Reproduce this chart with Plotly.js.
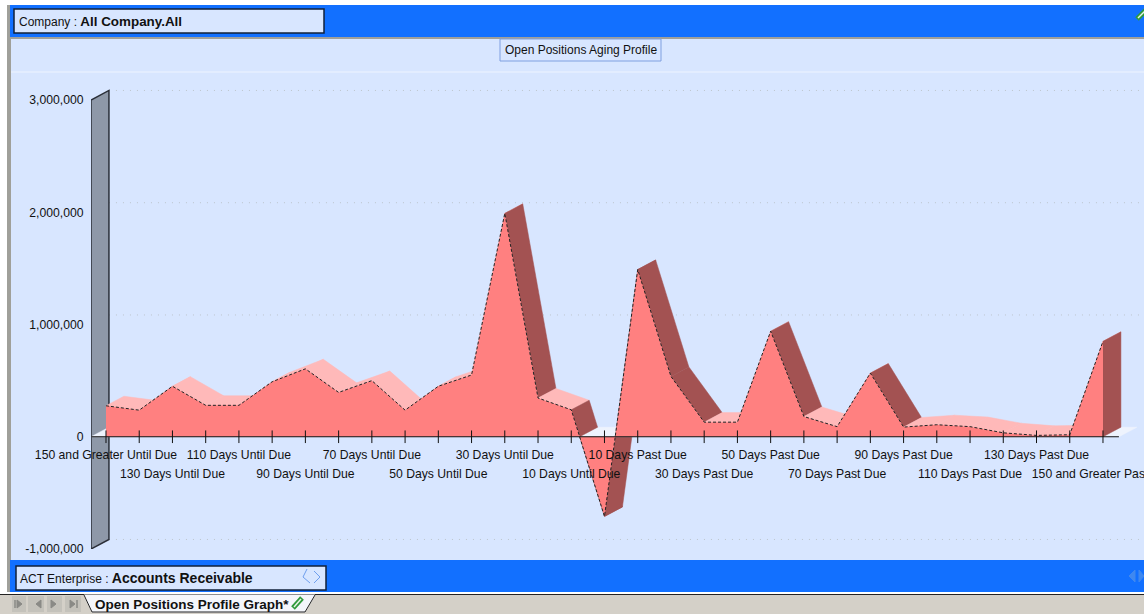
<!DOCTYPE html>
<html>
<head>
<meta charset="utf-8">
<script src="https://cdn.plot.ly/plotly-3.0.1.min.js"></script>
<style>html,body{margin:0;padding:0;background:#fff;overflow:hidden}#chart{width:1144px;height:614px}</style>
</head>
<body>
<div id="chart"></div>
<script>
// ---- data ----
const categories = [
  "150 and Greater Until Due","140 Days Until Due","130 Days Until Due","120 Days Until Due",
  "110 Days Until Due","100 Days Until Due","90 Days Until Due","80 Days Until Due",
  "70 Days Until Due","60 Days Until Due","50 Days Until Due","40 Days Until Due",
  "30 Days Until Due","20 Days Until Due","10 Days Until Due","0 Days",
  "10 Days Past Due","20 Days Past Due","30 Days Past Due","40 Days Past Due",
  "50 Days Past Due","60 Days Past Due","70 Days Past Due","80 Days Past Due",
  "90 Days Past Due","100 Days Past Due","110 Days Past Due","120 Days Past Due",
  "130 Days Past Due","140 Days Past Due","150 and Greater Past Due"
];
const openPositions = [
  276000,237000,450000,280000,280000,490000,605000,395000,
  500000,237000,450000,550000,1990000,345000,240000,-710000,
  1490000,537000,130000,130000,940000,180000,90000,567000,
  86000,107000,90000,35000,12000,18000,850000
];
const yLabelled = [-1000000,0,1000000,2000000,3000000];
const yAllTicks = [-1000000,-500000,0,500000,1000000,1500000,2000000,2500000,3000000];

// ---- colours ----
const PANEL='#d8e6ff', BLUE='#1270ff', FRONT='#ff8080', LIGHT='#ffb9b9', DARK='#a35252',
      FLOOR='#eef3fd', WALL='#8e98a8', INK='#111111', CHROME='#d4d0c8', EDGE='#a0a09a';

// ---- 3D depth of the ribbon, in axis units ----
const DX = 0.54, DY = 85000, STEEP = 350000;
const X0 = -0.451, X1 = 30.48, GRID_END = 31.3;

// ---- plot box in pixels ----
const L=91,R=1144,T=80,B=549;
const XMAX = X0 + (R-L)/33.233;
const YMAX = -1000000 + (B-T)*4000000/449;

const traces = [];
function poly(xs, ys, color, line){
  traces.push({type:'scatter',mode:'lines',x:xs.concat(xs[0]),y:ys.concat(ys[0]),fill:'toself',
    fillcolor:color,line:{color:line||color,width:line?1.5:0.5},hoverinfo:'skip',showlegend:false,cliponaxis:false});
}
function quad(xa,ya,xb,yb,color){
  poly([xa,xb,xb+DX,xa+DX],[ya,yb,yb+DY,ya+DY],color);
}

// back-wall grid lines
yLabelled.filter(v=>v!==0).forEach(v=>{
  traces.push({type:'scatter',mode:'lines',x:[X0+DX,GRID_END],y:[v+DY,v+DY],
    line:{color:'#bcc4cc',width:1,dash:'1px 6px'},hoverinfo:'skip',showlegend:false,cliponaxis:false});
});

// wall on the value axis
poly([X0,X0+DX,X0+DX,X0],[3000000,3000000+DY,-1000000+DY,-1000000],WALL,'#2b2f38');

// ribbon parts below zero (under the floor)
const aboveParts=[];
for(let i=0;i<openPositions.length-1;i++){
  const a=openPositions[i], b=openPositions[i+1];
  const color = (a-b)>STEEP || (a<0||b<0) ? DARK : LIGHT;
  if(a*b<0){
    const xz=i+a/(a-b);
    if(a>0){ aboveParts.push([i,a,xz,0,color]); quad(xz,0,i+1,b,color); }
    else   { quad(i,a,xz,0,color); aboveParts.push([xz,0,i+1,b,color]); }
  } else aboveParts.push([i,a,i+1,b,color]);
}
// floor
poly([X0,X1,X1+DX,X0+DX],[0,0,DY,DY],FLOOR);
// ribbon parts above zero
aboveParts.forEach(p=>quad(p[0],p[1],p[2],p[3],p[4]));
// right end cap
const last=openPositions.length-1;
quad(last,0,last,openPositions[last],DARK);

// front face, with the dashed outline
const xIdx = categories.map((c,i)=>i);
traces.push({type:'scatter',mode:'lines',x:xIdx,y:openPositions,fill:'tozeroy',fillcolor:FRONT,
  line:{color:'rgba(0,0,0,0)',width:0},name:'Open Positions',hoverinfo:'x+y',showlegend:false,cliponaxis:false});
traces.push({type:'scatter',mode:'lines',x:xIdx,y:openPositions,
  line:{color:'#222222',width:1,dash:'3px 2px'},hoverinfo:'skip',showlegend:false,cliponaxis:false});

// category axis line
traces.push({type:'scatter',mode:'lines',x:[X0,X1],y:[0,0],line:{color:INK,width:1},hoverinfo:'skip',showlegend:false,cliponaxis:false});

// tick marks straddling the two axes
traces.push({type:'scatter',mode:'markers',x:xIdx,y:xIdx.map(()=>0),xaxis:'x2',
  marker:{symbol:'line-ns',size:9,line:{color:INK,width:1}},hoverinfo:'skip',showlegend:false,cliponaxis:false});
traces.push({type:'scatter',mode:'markers',x:yAllTicks.map(()=>X0-0.02),y:yAllTicks,
  marker:{symbol:'line-ew',size:11,line:{color:INK,width:1}},hoverinfo:'skip',showlegend:false,cliponaxis:false});

// ---- window chrome (pixel helpers -> paper fractions) ----
const fx=p=>(p-L)/(R-L), fy=p=>(B-p)/(B-T);
const rect=(x0,y0,x1,y1,fill,line,w)=>({type:'rect',xref:'paper',yref:'paper',x0:fx(x0),x1:fx(x1),y0:fy(y0),y1:fy(y1),
  fillcolor:fill,line:{color:line||fill,width:line?(w||1):0},layer:'below'});
const seg=(x0,y0,x1,y1,c,w)=>({type:'line',xref:'paper',yref:'paper',x0:fx(x0),x1:fx(x1),y0:fy(y0),y1:fy(y1),line:{color:c,width:w||1},layer:'above'});
const pathOf=(pts,fill,line)=>({type:'path',xref:'paper',yref:'paper',
  path:pts.map((p,i)=>(i?'L':'M')+fx(p[0])+','+fy(p[1])).join(' ')+' Z',fillcolor:fill,line:{color:line||fill,width:1},layer:'above'});
const clip=(x0,y0,x1,y1)=>[seg(x0,y0,x1,y1,'#2f9a3c',5),seg(x0+1,y0-1,x1-1,y1+1,'#e8f5e8',1.5)];
const shapes=[
  rect(0,0,1144,5,'#ffffff'),
  rect(0,0,7,614,'#ffffff'),
  rect(7,5,11,594,EDGE),
  rect(10,5,1144,37,BLUE),
  rect(10,37,1144,39,EDGE),
  seg(11,72,1144,72,'#eef4ff',1),
  rect(14,9,324,33,PANEL,'#10203a',1.5),
  rect(500,39,661,61,PANEL,'#7f9fe0',1),
  rect(10,560,1144,592,BLUE),
  rect(16,566,326,590,PANEL,'#10203a',1.5),
  rect(0,592,1144,594,'#ffffff'),
  rect(0,594,1144,595,'#222222'),
  rect(0,595,1144,614,CHROME),
  rect(12,596,26,612,'#c4c2bb'), rect(28,596,44,612,'#c4c2bb'),
  rect(47,596,62,612,'#c4c2bb'), rect(65,596,81,612,'#c4c2bb'),
  pathOf([[41,600],[41,608],[36,604]],'#8a8a86'),
  pathOf([[51,600],[51,608],[56,604]],'#8a8a86'),
  pathOf([[17,600],[17,608],[22,604]],'#8a8a86'), seg(15,600,15,608,'#8a8a86',1.5),
  pathOf([[70,600],[70,608],[75,604]],'#8a8a86'), seg(77,600,77,608,'#8a8a86',1.5),
  pathOf([[84,595],[92,612],[305,612],[315,595]],'#f4f6fb'),
  seg(84,595,92,612,'#222',1), seg(92,612,305,612,'#222',1), seg(305,612,315,595,'#222',1),
  seg(307,569,303,577,'#6f9fee',1), seg(303,577,310,583,'#6f9fee',1),
  seg(314,571,320,577,'#6f9fee',1), seg(320,577,314,583,'#6f9fee',1),
  pathOf([[1129,576],[1135,570],[1135,582]],'#3f88f0'),
  pathOf([[1144,576],[1139,570],[1139,582]],'#3f88f0')
].concat(clip(293,608,302,598)).concat(clip(1137,19,1146,10));
const FONT='"Liberation Sans", Arial, sans-serif';
const note=(x,y,text,anchor,size)=>({xref:'paper',yref:'paper',x:fx(x),y:fy(y),text:text,showarrow:false,
  xanchor:anchor||'left',yanchor:'middle',font:{family:FONT,size:size||12,color:'#111'},align:'left',borderpad:0,borderwidth:0});
const big=(s,t)=>'<span style="font-size:'+s+'px"><b>'+t+'</b></span>';
const annotations=[
  note(19,21,'Company : '+big(13.4,'All Company.All')),
  note(581,50,'Open Positions Aging Profile','center'),
  note(20,578,'ACT Enterprise : '+big(14,'Accounts Receivable')),
  note(95,604,big(13.5,'Open Positions Profile Graph*'))
];

// ---- axes ----
const evens = xIdx.filter(i=>i%2===0);
const row1 = evens.filter((v,k)=>k%2===0), row2 = evens.filter((v,k)=>k%2===1);
const axisX = (vals,standoff)=>({
  range:[X0,XMAX], tickmode:'array', tickvals:vals, ticktext:vals.map(i=>categories[i]),
  tickangle:0, ticks:'outside', ticklen:4, tickcolor:'rgba(0,0,0,0)', showgrid:false, zeroline:false,
  anchor:'free', position:(B-437.3)/(B-T), ticklabelstandoff:standoff, ticklabeloverflow:'allow',
  tickfont:{family:FONT,size:12.2,color:'#111'}, fixedrange:true, showline:false
});
const layout={
  width:1144,height:614,autosize:false,
  margin:{l:L,r:1144-R,t:T,b:614-B,pad:0},
  paper_bgcolor:PANEL,plot_bgcolor:'rgba(0,0,0,0)',showlegend:false,
  xaxis:axisX(row1,2),
  xaxis2:Object.assign(axisX(row2,21),{overlaying:'x',side:'bottom'}),
  yaxis:{range:[-1000000,YMAX],tickmode:'array',tickvals:yLabelled,
    ticktext:yLabelled.map(v=>v.toLocaleString('en-US')),ticks:'outside',ticklen:4,tickcolor:'rgba(0,0,0,0)',
    showgrid:false,zeroline:false,showline:false,tickfont:{family:FONT,size:12.2,color:'#111'},fixedrange:true},
  shapes:shapes,annotations:annotations
};
Plotly.newPlot('chart',traces,layout,{displayModeBar:false,staticPlot:true});
</script>
</body>
</html>
